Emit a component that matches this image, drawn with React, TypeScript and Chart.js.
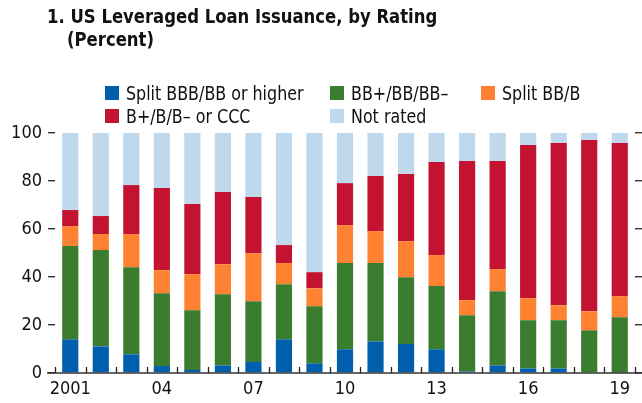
import React, { useEffect, useRef } from "react";
import { Chart, registerables } from "chart.js";

Chart.register(...registerables);

const years = [
  "2001", "2002", "2003", "2004", "2005", "2006", "2007", "2008", "2009", "2010",
  "2011", "2012", "2013", "2014", "2015", "2016", "2017", "2018", "2019",
];
const xTickLabels = [
  "2001", "", "", "04", "", "", "07", "", "", "10",
  "", "", "13", "", "", "16", "", "", "19",
];
const splitBBB = [14.0, 11.1, 7.8, 2.9, 1.3, 3.2, 4.6, 14.0, 4.0, 9.9, 13.2, 12.1, 9.9, 0.7, 3.2, 1.9, 1.9, 0.3, 0.2];
const bbGroup = [38.9, 40.1, 36.3, 30.3, 24.8, 29.6, 25.3, 23.0, 23.8, 35.9, 32.6, 27.8, 26.3, 23.4, 30.9, 20.1, 20.1, 17.5, 23.0];
const splitBBB_B = [8.3, 6.7, 13.8, 9.6, 15.1, 12.5, 20.0, 8.8, 7.5, 15.8, 13.3, 15.0, 12.9, 6.2, 9.2, 9.2, 6.2, 7.9, 8.8];
const bGroup = [6.7, 7.5, 20.4, 34.3, 29.2, 30.1, 23.4, 7.5, 6.7, 17.5, 23.0, 28.0, 38.8, 58.0, 45.0, 63.8, 67.6, 71.4, 63.8];
const notRated = [32.1, 34.6, 21.7, 22.9, 29.6, 24.6, 26.7, 46.7, 58.0, 20.9, 17.9, 17.1, 12.1, 11.7, 11.7, 5.0, 4.2, 2.9, 4.2];

const seriesNames = ["Split BBB/BB or higher", "BB+/BB/BB–", "Split BB/B", "B+/B/B– or CCC", "Not rated"];
const seriesColors = ["#005FAD", "#3A7D2E", "#FF8232", "#C41331", "#C0D8EB"];
const seriesData = [splitBBB, bbGroup, splitBBB_B, bGroup, notRated];

const titleLine1 = "1. US Leveraged Loan Issuance, by Rating";
const titleLine2 = "(Percent)";

const FONT = '"Liberation Sans Narrow", "Arial Narrow", "DejaVu Sans Condensed", sans-serif';

const axisPlugin = {
  id: "axisDecor",
  afterDatasetsDraw(chart: any) {
    const { ctx, scales } = chart;
    const x = scales.x;
    const y = scales.y;
    const y0 = y.getPixelForValue(0);
    ctx.save();
    ctx.strokeStyle = "#333333";
    ctx.lineWidth = 1.6;
    ctx.beginPath();
    ctx.moveTo(chart.chartArea.left - 8, y0);
    ctx.lineTo(chart.width, y0);
    ctx.stroke();
    ctx.lineWidth = 1.3;
    ctx.strokeStyle = "#222222";
    for (let i = 0; i <= years.length; i++) {
      const px = Math.round(x.getPixelForValue(i - 0.5)) + 0.5;
      ctx.beginPath();
      ctx.moveTo(px, y0);
      ctx.lineTo(px, y0 - 6);
      ctx.stroke();
    }
    ctx.restore();
  },
};

export default function App() {
  const canvasRef = useRef<HTMLCanvasElement | null>(null);

  useEffect(() => {
    if (!canvasRef.current) return;
    const chart = new Chart(canvasRef.current, {
      type: "bar",
      data: {
        labels: years,
        datasets: seriesNames.map((name, i) => ({
          label: name,
          data: seriesData[i],
          backgroundColor: seriesColors[i],
          borderWidth: 0,
          barPercentage: 0.53,
          categoryPercentage: 1,
        })),
      },
      options: {
        animation: false,
        responsive: false,
        devicePixelRatio: 1,
        layout: { padding: { top: 133, left: 0, right: 0, bottom: 0 } },
        plugins: {
          legend: { display: false },
          tooltip: { enabled: false },
          title: { display: false },
        },
        scales: {
          x: {
            stacked: true,
            grid: { display: false, drawTicks: false },
            border: { display: false },
            ticks: {
              autoSkip: false,
              maxRotation: 0,
              minRotation: 0,
              padding: 6,
              color: "#111",
              font: { family: FONT, size: 18 },
              callback: (_v: any, i: number) => xTickLabels[i],
            },
            afterFit: (s: any) => {
              s.height = 30;
            },
          },
          y: {
            stacked: true,
            min: 0,
            max: 100,
            position: "left",
            grid: {
              drawOnChartArea: false,
              drawTicks: true,
              tickLength: 7,
              color: "#333",
              lineWidth: 1.4,
            },
            border: { display: false },
            ticks: {
              stepSize: 20,
              padding: 6,
              color: "#111",
              font: { family: FONT, size: 18 },
            },
            afterFit: (s: any) => {
              s.width = 55;
            },
          },
          y2: {
            min: 0,
            max: 100,
            position: "right",
            grid: {
              drawOnChartArea: false,
              drawTicks: true,
              tickLength: 7,
              color: "#333",
              lineWidth: 1.4,
            },
            border: { display: false },
            ticks: { display: false, stepSize: 20 },
          },
        },
      },
      plugins: [axisPlugin],
    } as any);
    return () => chart.destroy();
  }, []);

  const legendPos = [
    { left: 105, top: 86 },
    { left: 330, top: 86 },
    { left: 481, top: 86 },
    { left: 105, top: 109 },
    { left: 330, top: 109 },
  ];

  return (
    <div
      style={{
        position: "absolute",
        left: 0,
        top: 0,
        width: 642,
        height: 403,
        background: "#fff",
        overflow: "hidden",
        fontFamily: FONT,
        color: "#111",
      }}
    >
      <canvas
        ref={canvasRef}
        width={642}
        height={403}
        style={{ position: "absolute", left: 0, top: 0, width: 642, height: 403, display: "block" }}
      />
      <div
        style={{
          position: "absolute",
          left: 47,
          top: 5,
          fontSize: 20,
          fontWeight: "bold",
          lineHeight: "23px",
          whiteSpace: "nowrap",
          transform: "scaleX(0.915)",
          transformOrigin: "left top",
        }}
      >
        {titleLine1}
      </div>
      <div
        style={{
          position: "absolute",
          left: 67,
          top: 28,
          fontSize: 20,
          fontWeight: "bold",
          lineHeight: "23px",
          whiteSpace: "nowrap",
          transform: "scaleX(0.915)",
          transformOrigin: "left top",
        }}
      >
        {titleLine2}
      </div>
      {seriesNames.map((name, i) => (
        <div
          key={name}
          style={{
            position: "absolute",
            left: legendPos[i].left,
            top: legendPos[i].top,
            height: 14,
            display: "flex",
            alignItems: "center",
            whiteSpace: "nowrap",
          }}
        >
          <span
            style={{
              display: "inline-block",
              width: 14,
              height: 14,
              background: seriesColors[i],
              marginRight: 7,
              flex: "none",
            }}
          />
          <span
            style={{
              fontSize: 19,
              lineHeight: "14px",
              display: "inline-block",
              transform: "scaleX(0.93)",
              transformOrigin: "left center",
            }}
          >
            {name}
          </span>
        </div>
      ))}
    </div>
  );
}
